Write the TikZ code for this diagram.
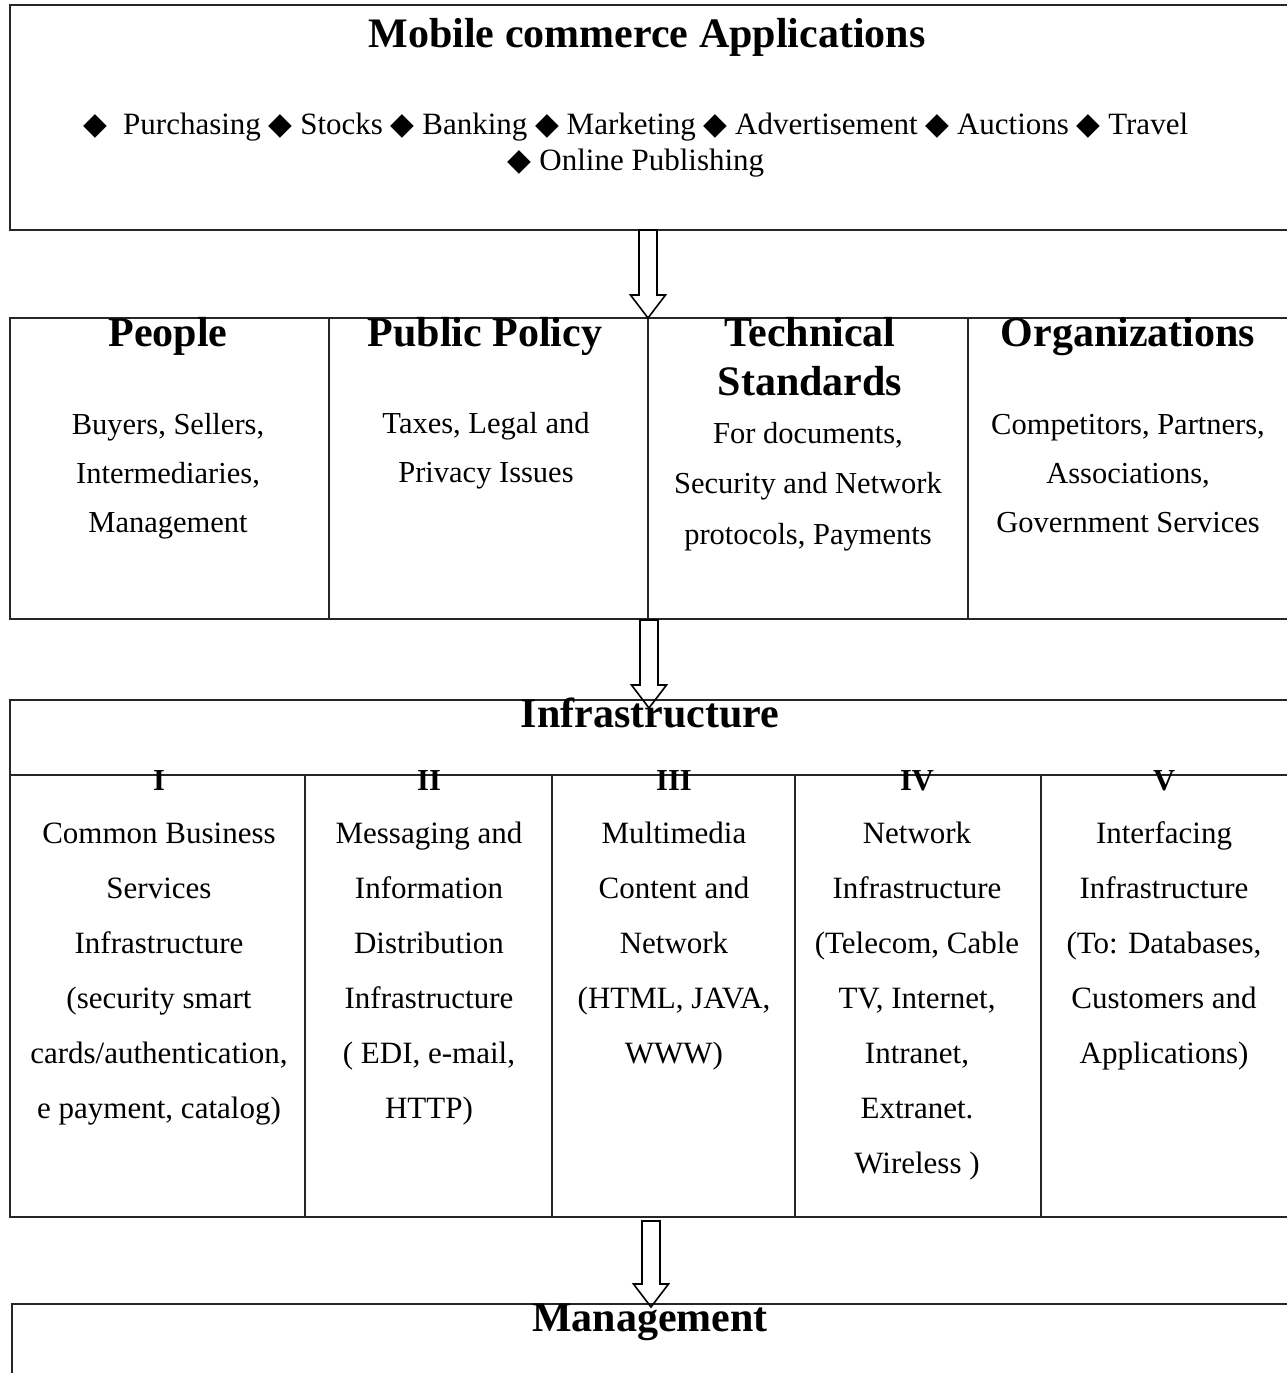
\documentclass[tikz,border=0pt]{standalone}
\usepackage{fontspec}
\setmainfont{Liberation Serif}
\newfontfamily\symfont{DejaVu Sans}
\usetikzlibrary{calc}
\newcommand\dm{{\symfont ◆}}
\tikzset{
  frame/.style={line width=1.5pt, draw=black!85},
  headtext/.style={font=\fontsize{42}{49}\selectfont\bfseries, align=center, anchor=base, inner sep=0pt},
  bodytext/.style={font=\fontsize{30.5}{49}\selectfont, align=center, anchor=base, inner sep=0pt},
  techtext/.style={font=\fontsize{30.5}{50.5}\selectfont, align=center, anchor=base, inner sep=0pt},
  coltext/.style={font=\fontsize{31}{55}\selectfont, align=center, anchor=base, inner sep=0pt},
  bullettext/.style={font=\fontsize{31}{36}\selectfont, align=center, anchor=base, inner sep=0pt},
  numeral/.style={font=\fontsize{30.5}{36}\selectfont\bfseries, anchor=base, inner sep=0pt},
  blockarr/.style={line width=1.6pt, draw=black, line join=miter},
}
% multi-line nodes: anchor base = baseline of the last line
\newcommand\blockarrow[2]{%
  \draw[blockarr] ($(#1)+(-9,0)$) -- ($(#2)+(-9,-23)$) -- ($(#2)+(-17.5,-23)$) -- (#2)
    -- ($(#2)+(17.5,-23)$) -- ($(#2)+(9,-23)$) -- ($(#1)+(9,0)$) -- cycle;}
\begin{document}
\begin{tikzpicture}[x=1pt,y=-1pt]
\useasboundingbox (0,0) rectangle (1287,1373);
% ---------- applications box
\draw[frame] (1287,5) -- (10,5) -- (10,230) -- (1287,230);
\node[headtext] (title) at (647,47) {Mobile commerce Applications};
\node[bullettext] (apps) at (636,170)
  {\dm\ \ Purchasing \dm\ Stocks \dm\ Banking \dm\ Marketing \dm\ Advertisement \dm\ Auctions \dm\ Travel\\
   \dm\ Online Publishing};
% ---------- second row
\draw[frame] (1287,318) -- (10,318) -- (10,619) -- (1287,619);
\draw[frame] (329,318) -- (329,619);
\draw[frame] (648,318) -- (648,619);
\draw[frame] (968,318) -- (968,619);
\node[headtext] (people) at (168,346) {People};
\node[bodytext] (peopletxt) at (168,532) {Buyers, Sellers,\\Intermediaries,\\Management};
\node[headtext] (policy) at (485,346) {Public Policy};
\node[bodytext] (policytxt) at (486,482) {Taxes, Legal and\\Privacy Issues};
\node[headtext] (tech) at (810,395) {Technical\\Standards};
\node[techtext] (techtxt) at (808,544) {For documents,\\Security and Network\\protocols, Payments};
\node[headtext] (org) at (1128,346) {Organizations};
\node[bodytext] (orgtxt) at (1128,532) {Competitors, Partners,\\Associations,\\Government Services};
% ---------- infrastructure
\draw[frame] (1287,700) -- (10,700) -- (10,1217) -- (1287,1217);
\draw[frame] (10,775) -- (1287,775);
\foreach \xx in {305,552,795,1041} \draw[frame] (\xx,775) -- (\xx,1217);
\node[headtext] (infra) at (650,727) {Infrastructure};
\node[numeral] (n1) at (159,790) {I};
\node[numeral] (n2) at (429,790) {II};
\node[numeral] (n3) at (674,790) {III};
\node[numeral] (n4) at (917,790) {IV};
\node[numeral] (n5) at (1164,790) {V};
\node[coltext] (c1) at (159,1118) {Common Business\\Services\\Infrastructure\\(security smart\\cards/authentication,\\e payment, catalog)};
\node[coltext] (c2) at (429,1118) {Messaging and\\Information\\Distribution\\Infrastructure\\( EDI, e-mail,\\HTTP)};
\node[coltext] (c3) at (674,1063) {Multimedia\\Content and\\Network\\(HTML, JAVA,\\WWW)};
\node[coltext] (c4) at (917,1173) {Network\\Infrastructure\\(Telecom, Cable\\TV, Internet,\\Intranet,\\Extranet.\\Wireless )};
\node[coltext] (c5) at (1164,1063) {Interfacing\\Infrastructure\\(To: Databases,\\Customers and\\Applications)};
% ---------- management
\draw[frame] (12,1373) -- (12,1304) -- (1287,1304);
\node[headtext] (mgmt) at (650,1331) {Management};
% ---------- arrows
\coordinate (a1s) at (648,230); \coordinate (a1e) at (648,318);
\coordinate (a2s) at (649,620); \coordinate (a2e) at (649,708);
\coordinate (a3s) at (651,1221); \coordinate (a3e) at (651,1307);
\blockarrow{a1s}{a1e}
\blockarrow{a2s}{a2e}
\blockarrow{a3s}{a3e}
\end{tikzpicture}
\end{document}
